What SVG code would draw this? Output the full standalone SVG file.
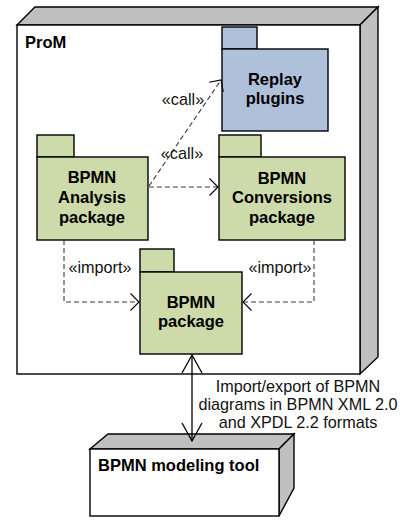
<svg xmlns="http://www.w3.org/2000/svg" width="403" height="521" viewBox="0 0 403 521">
<style>
.face{fill:#ffffff;stroke:#000;stroke-width:1.4;stroke-linejoin:miter}
.side{fill:#c0c0c0;stroke:#000;stroke-width:1.4;stroke-linejoin:miter}
.green{fill:#cddaa9;stroke:#000;stroke-width:1.4}
.blue{fill:#afc1da;stroke:#000;stroke-width:1.4}
.name{font-family:"Liberation Sans",Arial,sans-serif;font-size:16.5px;font-weight:bold;fill:#000}
.mid{text-anchor:middle}
.lbl{font-family:"Liberation Sans",Arial,sans-serif;font-size:16.2px;fill:#111;text-anchor:middle}
.dash{fill:none;stroke:#3a3a3a;stroke-width:1.1;stroke-dasharray:5,3;marker-end:url(#open)}
.solid{fill:none;stroke:#000;stroke-width:1.3;marker-start:url(#open2);marker-end:url(#open2)}
</style>
<defs>
<marker id="open" markerUnits="userSpaceOnUse" viewBox="-10 -10 12 20" markerWidth="12" markerHeight="20" refX="0" refY="0" orient="auto" overflow="visible">
<path d="M -8.5 -8.5 L 0 0 L -8.5 8.5" fill="none" stroke="#000" stroke-width="1.1"/>
</marker>
<marker id="open2" markerUnits="userSpaceOnUse" viewBox="-20 -12 22 24" markerWidth="22" markerHeight="24" refX="0" refY="0" orient="auto-start-reverse" overflow="visible">
<path d="M -18 -10 L 0 0 L -18 10" fill="none" stroke="#000" stroke-width="1.3"/>
</marker>
</defs>

<g id="prom">
<polygon class="side" points="17,25 35,7 378,7 360,25"/>
<polygon class="side" points="360,25 378,7 378,357 360,374"/>
<rect class="face" x="17" y="25" width="343" height="349"/>
<text class="name" x="25" y="48">ProM</text>
</g>

<g id="replay-plugins">
<rect class="blue" x="222" y="27" width="35" height="22"/>
<rect class="blue" x="222" y="49" width="106" height="82"/>
<text class="name mid" x="275" y="85">Replay</text>
<text class="name mid" x="275" y="104">plugins</text>
</g>

<g id="bpmn-analysis">
<rect class="green" x="37" y="135" width="37" height="22"/>
<rect class="green" x="37" y="157" width="111" height="83"/>
<text class="name mid" x="92" y="183">BPMN</text>
<text class="name mid" x="92" y="203">Analysis</text>
<text class="name mid" x="92" y="223">package</text>
</g>

<g id="bpmn-conversions">
<rect class="green" x="219" y="135" width="42" height="22"/>
<rect class="green" x="219" y="157" width="126" height="83"/>
<text class="name mid" x="282" y="184">BPMN</text>
<text class="name mid" x="282" y="203">Conversions</text>
<text class="name mid" x="282" y="223">package</text>
</g>

<g id="bpmn-package">
<rect class="green" x="140" y="249" width="34" height="23"/>
<rect class="green" x="140" y="272" width="102" height="82"/>
<text class="name mid" x="191" y="308">BPMN</text>
<text class="name mid" x="191" y="327">package</text>
</g>

<g id="bpmn-modeling-tool">
<polygon class="side" points="90,449 108,434 294,434 279,449"/>
<polygon class="side" points="279,449 294,434 294,488 279,516"/>
<rect class="face" x="90" y="449" width="189" height="67"/>
<text class="name" x="98" y="471">BPMN modeling tool</text>
</g>

<g id="connectors">
<path class="dash" d="M 149 186 L 221 80"/>
<text class="lbl" x="183" y="105">«call»</text>
<path class="dash" d="M 149 187 L 218 187"/>
<text class="lbl" x="182" y="159">«call»</text>
<path class="dash" d="M 64 240 L 64 302 L 139 302"/>
<text class="lbl" x="100" y="273">«import»</text>
<path class="dash" d="M 314 240 L 314 302 L 243 302"/>
<text class="lbl" x="280" y="273">«import»</text>
<path class="solid" d="M 192 355 L 192 441"/>
<text class="lbl" x="298" y="392">Import/export of BPMN</text>
<text class="lbl" x="298" y="410">diagrams in BPMN XML 2.0</text>
<text class="lbl" x="298" y="428">and XPDL 2.2 formats</text>
</g>
</svg>
